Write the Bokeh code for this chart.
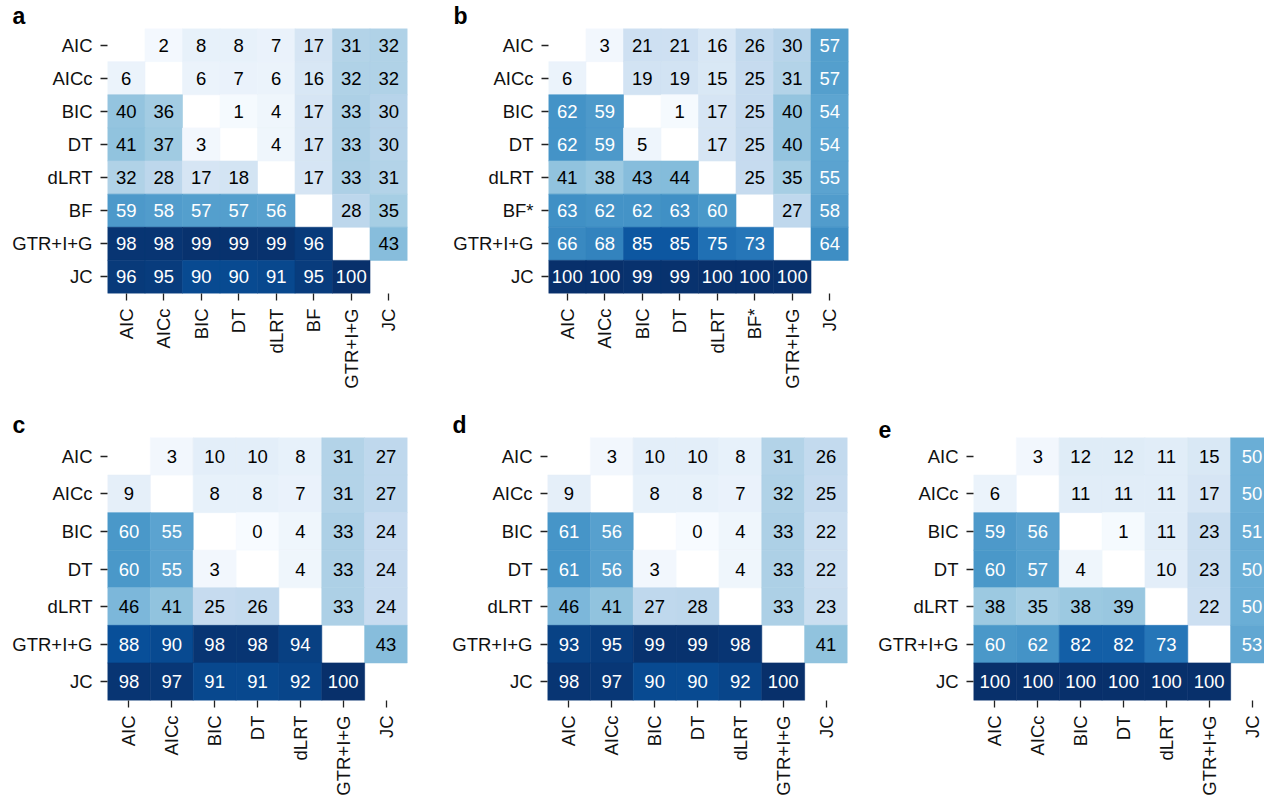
import numpy as np
from bokeh.plotting import figure
from bokeh.models import ColumnDataSource, LinearColorMapper, Range1d, FixedTicker
from bokeh.layouts import column, row
from bokeh.palettes import Blues256
from bokeh.transform import transform
from bokeh.core.properties import value
from bokeh.embed import file_html
from bokeh.resources import INLINE

N = None

methods_a = ["AIC", "AICc", "BIC", "DT", "dLRT", "BF", "GTR+I+G", "JC"]
values_a = [
    [N, 2, 8, 8, 7, 17, 31, 32],
    [6, N, 6, 7, 6, 16, 32, 32],
    [40, 36, N, 1, 4, 17, 33, 30],
    [41, 37, 3, N, 4, 17, 33, 30],
    [32, 28, 17, 18, N, 17, 33, 31],
    [59, 58, 57, 57, 56, N, 28, 35],
    [98, 98, 99, 99, 99, 96, N, 43],
    [96, 95, 90, 90, 91, 95, 100, N],
]

methods_b = ["AIC", "AICc", "BIC", "DT", "dLRT", "BF*", "GTR+I+G", "JC"]
values_b = [
    [N, 3, 21, 21, 16, 26, 30, 57],
    [6, N, 19, 19, 15, 25, 31, 57],
    [62, 59, N, 1, 17, 25, 40, 54],
    [62, 59, 5, N, 17, 25, 40, 54],
    [41, 38, 43, 44, N, 25, 35, 55],
    [63, 62, 62, 63, 60, N, 27, 58],
    [66, 68, 85, 85, 75, 73, N, 64],
    [100, 100, 99, 99, 100, 100, 100, N],
]

methods_cde = ["AIC", "AICc", "BIC", "DT", "dLRT", "GTR+I+G", "JC"]
values_c = [
    [N, 3, 10, 10, 8, 31, 27],
    [9, N, 8, 8, 7, 31, 27],
    [60, 55, N, 0, 4, 33, 24],
    [60, 55, 3, N, 4, 33, 24],
    [46, 41, 25, 26, N, 33, 24],
    [88, 90, 98, 98, 94, N, 43],
    [98, 97, 91, 91, 92, 100, N],
]
values_d = [
    [N, 3, 10, 10, 8, 31, 26],
    [9, N, 8, 8, 7, 32, 25],
    [61, 56, N, 0, 4, 33, 22],
    [61, 56, 3, N, 4, 33, 22],
    [46, 41, 27, 28, N, 33, 23],
    [93, 95, 99, 99, 98, N, 41],
    [98, 97, 90, 90, 92, 100, N],
]
values_e = [
    [N, 3, 12, 12, 11, 15, 50],
    [6, N, 11, 11, 11, 17, 50],
    [59, 56, N, 1, 11, 23, 51],
    [60, 57, 4, N, 10, 23, 50],
    [38, 35, 38, 39, N, 22, 50],
    [60, 62, 82, 82, 73, N, 53],
    [100, 100, 100, 100, 100, 100, N],
]

pal = list(Blues256)
if int(pal[0][1:3], 16) < 128:
    pal = pal[::-1]
mapper = LinearColorMapper(palette=pal, low=0, high=100)

FONT = "Liberation Sans"


def panel(letter, labels, vals, width, height, bl, br, bt, bb, frame_w):
    n = len(labels)
    cell_w = 300.0 / n
    x_end = -0.5 + frame_w / cell_w
    xs, ys, vs, ts, cs = [], [], [], [], []
    for i in range(n):
        for j in range(n):
            v = vals[i][j]
            if v is None:
                continue
            xs.append(j)
            ys.append(i)
            vs.append(v)
            ts.append(str(v))
            cs.append("white" if v >= 48 else "black")
    src = ColumnDataSource(dict(x=xs, y=ys, v=vs, t=ts, c=cs))
    p = figure(width=width, height=height,
               x_range=Range1d(-0.5, x_end), y_range=Range1d(n - 0.5, -0.5),
               output_backend="svg", toolbar_location=None,
               min_border_left=bl, min_border_right=br,
               min_border_top=bt, min_border_bottom=bb)
    p.rect(x="x", y="y", width=1, height=1, source=src,
           fill_color=transform("v", mapper), line_color=transform("v", mapper),
           line_width=0.6)
    p.text(x="x", y="y", text="t", text_color="c", source=src,
           text_font=value(FONT), text_font_size="18.5px",
           text_align="center", text_baseline="middle")
    p.xgrid.visible = False
    p.ygrid.visible = False
    p.outline_line_color = None
    p.background_fill_color = "white"
    p.border_fill_color = "white"
    overrides = {i: lab for i, lab in enumerate(labels)}
    for ax in (p.xaxis[0], p.yaxis[0]):
        ax.ticker = FixedTicker(ticks=list(range(n)))
        ax.major_label_overrides = overrides
        ax.axis_line_color = None
        ax.major_tick_in = 0
        ax.major_tick_out = 7
        ax.major_tick_line_color = "#222222"
        ax.major_tick_line_width = 1.3
        ax.minor_tick_line_color = None
        ax.major_label_text_font = FONT
        ax.major_label_text_font_size = "18.5px"
        ax.major_label_text_color = "#111111"
        ax.major_label_standoff = 8
    p.xaxis.major_label_orientation = np.pi / 2
    p.title.text = letter
    p.title.align = "left"
    p.title.offset = -95
    p.title.standoff = 0
    p.title.text_font = FONT
    p.title.text_font_size = "23px"
    p.title.text_font_style = "bold"
    p.title.text_color = "black"
    return p


pa = panel("a", methods_a, values_a, 449, 409, 107, 42, 27, 116, 300)
pb = panel("b", methods_b, values_b, 419, 409, 99, 20, 27, 116, 300)
pc = panel("c", methods_cde, values_c, 448, 389, 107, 41, 27, 96, 300)
pd_ = panel("d", methods_cde, values_d, 426, 389, 99, 27, 27, 96, 300)
pe = panel("e", methods_cde, values_e, 390, 389, 99, 0, 27, 96, 291)

layout = column(row(pa, pb), row(pc, pd_, pe))
open("out.html", "w").write(file_html(layout, INLINE))
